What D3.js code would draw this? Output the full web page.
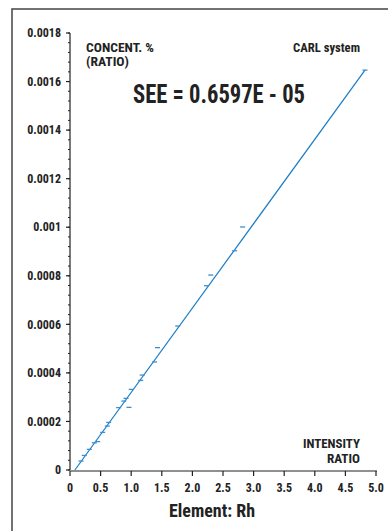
<!DOCTYPE html>
<html><head><meta charset="utf-8">
<script src="https://cdn.jsdelivr.net/npm/d3@7"></script>
<style>
html,body{margin:0;padding:0;background:#fff;}
svg{display:block;}
text{font-family:"Liberation Sans Narrow","Arial Narrow","Roboto Condensed","Liberation Sans",sans-serif;font-weight:bold;fill:#222;}
</style></head><body>
<script>
const xTicks = [0, 0.5, 1.0, 1.5, 2.0, 2.5, 3.0, 3.5, 4.0, 4.5, 5.0];
const xTickLabels = ["0", "0.5", "1.0", "1.5", "2.0", "2.5", "3.0", "3.5", "4.0", "4.5", "5.0"];
const yTicks = [0, 0.0002, 0.0004, 0.0006, 0.0008, 0.001, 0.0012, 0.0014, 0.0016, 0.0018];
const yTickLabels = ["0", "0.0002", "0.0004", "0.0006", "0.0008", "0.001", "0.0012", "0.0014", "0.0016", "0.0018"];
const intensity = [0.18, 0.234, 0.316, 0.398, 0.452, 0.534, 0.61, 0.632, 0.795, 0.88, 0.915, 0.964, 1.0, 1.155, 1.18, 1.38, 1.43, 1.76, 2.23, 2.30, 2.69, 2.82, 4.82];
const concent = [0.000037, 0.000060, 0.000085, 0.000112, 0.000117, 0.000155, 0.000181, 0.000196, 0.000257, 0.000284, 0.000295, 0.000258, 0.000332, 0.000369, 0.000391, 0.000445, 0.000504, 0.000593, 0.000759, 0.000803, 0.000903, 0.001001, 0.001647];
const fitLine = [[0.08, 0], [4.82, 0.001647]];

const W = 388, H = 531;
const svg = d3.select("body").append("svg").attr("width", W).attr("height", H);

svg.append("rect").attr("x", 12).attr("y", 9).attr("width", 420).attr("height", 600)
  .attr("fill", "none").attr("stroke", "#444").attr("stroke-width", 1.5);

const x = d3.scaleLinear().domain([0, 5]).range([70, 376]);
const y = d3.scaleLinear().domain([0, 0.0018]).range([470, 33]);

// Y axis
const yMinor = d3.range(0, 0.00180001, 0.00004);
const yAx = svg.append("g");
yAx.append("line").attr("x1", 70).attr("x2", 70).attr("y1", y(0)).attr("y2", y(0.0018)).attr("stroke", "#222").attr("stroke-width", 1.2);
yAx.selectAll("line.minor").data(yMinor).enter().append("line").attr("class", "minor")
  .attr("x1", 68).attr("x2", 70).attr("y1", d => y(d)).attr("y2", d => y(d)).attr("stroke", "#222").attr("stroke-width", 1);
yAx.selectAll("line.major").data(yTicks).enter().append("line").attr("class", "major")
  .attr("x1", 66).attr("x2", 70).attr("y1", d => y(d)).attr("y2", d => y(d)).attr("stroke", "#222").attr("stroke-width", 1.2);
yAx.selectAll("text").data(yTicks).enter().append("text")
  .attr("x", 61).attr("y", d => y(d)).attr("dy", "0.35em").attr("text-anchor", "end")
  .attr("font-size", 12).text((d, i) => yTickLabels[i]);

// X axis
const xAx = svg.append("g");
xAx.append("line").attr("x1", 70).attr("x2", 377).attr("y1", 471).attr("y2", 471).attr("stroke", "#222").attr("stroke-width", 1.2);
xAx.selectAll("line.major").data(xTicks).enter().append("line")
  .attr("x1", d => x(d)).attr("x2", d => x(d)).attr("y1", 471).attr("y2", 476).attr("stroke", "#222").attr("stroke-width", 1.2);
xAx.selectAll("text").data(xTicks).enter().append("text")
  .attr("x", d => x(d)).attr("y", 488).attr("dy", "0.35em").attr("text-anchor", "middle")
  .attr("font-size", 12).text((d, i) => xTickLabels[i]);

// fit line
svg.append("line").attr("x1", x(fitLine[0][0])).attr("y1", y(fitLine[0][1]))
  .attr("x2", x(fitLine[1][0])).attr("y2", y(fitLine[1][1]))
  .attr("stroke", "#1a7cc4").attr("stroke-width", 1.2);

// points as dashes
svg.selectAll("line.pt").data(intensity).enter().append("line").attr("class", "pt")
  .attr("x1", (d) => x(d) - 2.5).attr("x2", (d) => x(d) + 2.5)
  .attr("y1", (d, i) => y(concent[i])).attr("y2", (d, i) => y(concent[i]))
  .attr("stroke", "#3b8fd0").attr("stroke-width", 1.3);

// texts
function label(tx, ty, size, anchor, len, str) {
  svg.append("text").attr("x", tx).attr("y", ty).attr("font-size", size).attr("text-anchor", anchor)
    .attr("textLength", len).attr("lengthAdjust", "spacingAndGlyphs").text(str);
}
label(86, 52, 12.5, "start", 68, "CONCENT. %");
label(86, 66, 12.5, "start", 43, "(RATIO)");
label(360, 52, 12.5, "end", 67, "CARL system");
label(219, 103, 25, "middle", 172, "SEE = 0.6597E - 05");
label(360, 448, 13, "end", 57, "INTENSITY");
label(360, 463, 13, "end", 33, "RATIO");
label(212, 517, 19, "middle", 86, "Element: Rh");
</script>
</body></html>
